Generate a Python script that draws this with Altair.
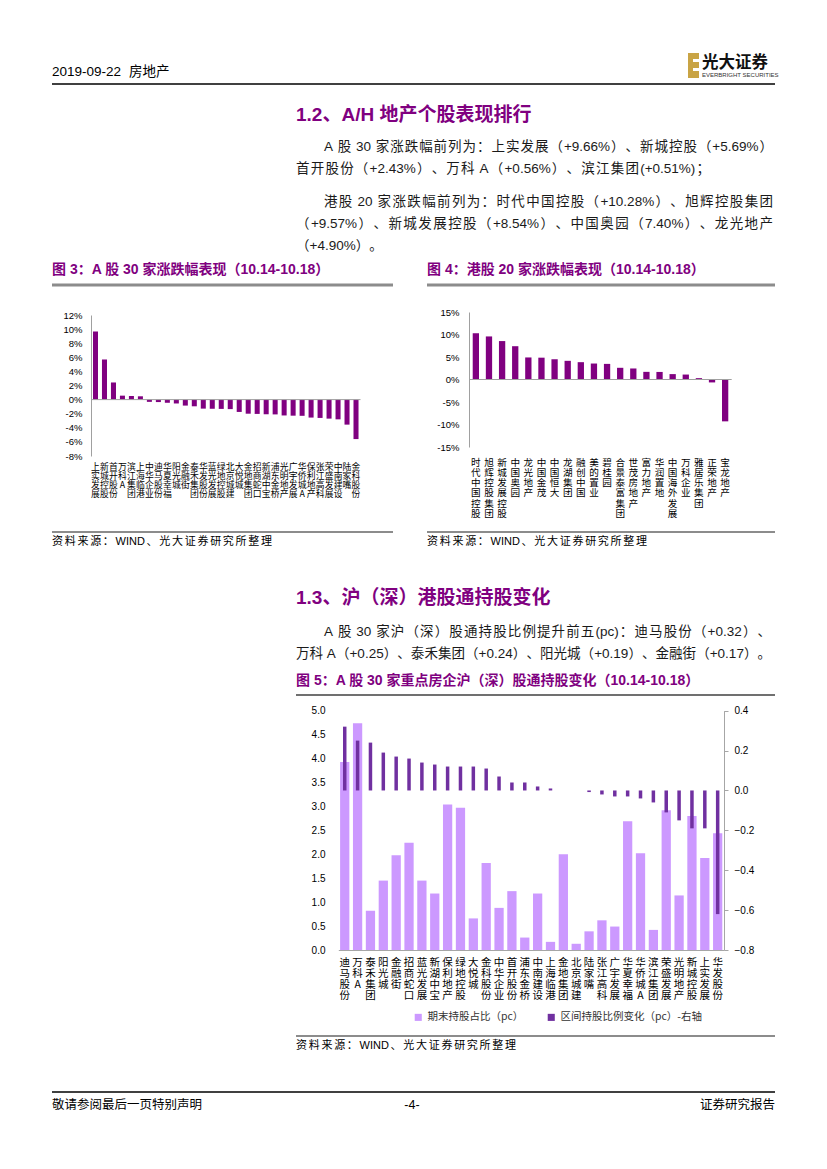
import altair as alt
import pandas as pd

FONT = "Noto Sans CJK SC"
LAT = "Liberation Sans, Noto Sans CJK SC"
PURPLE = "#800080"
BAR = "#800080"
TXT = "#1a1a1a"

# ---------------- data ----------------
a_names = ["上实发展", "新城控股", "首开股份", "万科A", "滨江集团", "上海临港", "中华企业", "迪马股份",
           "华夏幸福", "阳光城", "金融街", "泰禾集团", "华发股份", "蓝光发展", "绿地控股", "北京城建",
           "大悦城", "金地集团", "招商蛇口", "新湖中宝", "浦东金桥", "光明地产", "广宇发展", "华侨城A",
           "保利地产", "张江高科", "荣盛发展", "中南建设", "陆家嘴", "金科股份"]
a_chg = [9.66, 5.69, 2.43, 0.56, 0.51, 0.47, -0.32, -0.35, -0.45, -0.55, -0.85, -0.95, -1.28, -1.30,
         -1.32, -1.35, -1.75, -2.00, -2.03, -2.08, -2.10, -2.25, -2.28, -2.30, -2.55, -2.60, -2.70,
         -2.80, -3.55, -5.60]

h_names = ["时代中国控股", "旭辉控股集团", "新城发展控股", "中国奥园", "龙光地产", "中国金茂", "中国恒大",
           "龙湖集团", "融创中国", "美的置业", "碧桂园", "合景泰富集团", "世茂房地产", "富力地产",
           "华润置地", "中国海外发展", "万科企业", "雅居乐集团", "正荣地产", "宝龙地产"]
h_chg = [10.28, 9.57, 8.54, 7.40, 4.90, 4.85, 4.50, 4.15, 3.85, 3.55, 3.47, 2.60, 2.45, 1.70, 1.68,
         1.20, 1.10, 0.30, -0.65, -9.30]

c5_names = ["迪马股份", "万科A", "泰禾集团", "阳光城", "金融街", "招商蛇口", "蓝光发展", "新湖中宝",
            "保利地产", "绿地控股", "大悦城", "金科股份", "中华企业", "首开股份", "浦东金桥", "中南建设",
            "上海临港", "金地集团", "北京城建", "陆家嘴", "张江高科", "广宇发展", "华夏幸福", "华侨城A",
            "滨江集团", "荣盛发展", "光明地产", "新城控股", "上实发展", "华发股份"]
c5_hold = [3.93, 4.74, 0.82, 1.45, 1.98, 2.24, 1.45, 1.18, 3.04, 2.97, 0.66, 1.82, 0.88, 1.23, 0.26,
           1.18, 0.17, 2.00, 0.13, 0.39, 0.62, 0.49, 2.69, 2.02, 0.42, 2.92, 1.14, 2.80, 1.92, 2.44]
c5_delta = [0.32, 0.25, 0.24, 0.19, 0.17, 0.16, 0.14, 0.13, 0.12, 0.12, 0.12, 0.11, 0.07, 0.04, 0.04,
            0.02, 0.01, 0.0, 0.0, -0.008, -0.02, -0.03, -0.03, -0.04, -0.06, -0.11, -0.15, -0.19,
            -0.19, -0.62]
S1 = "期末持股占比（pc）"
S2 = "区间持股比例变化（pc）-右轴"

one = pd.DataFrame({"k": [0]})
W, H = 811, 1153  # page minus 8px margins; local = page - 8


# ---------------- helpers for page text ----------------
def T(x, y, s, size=13.5, color=TXT, weight="normal", align="left", font=FONT):
    return alt.Chart(one).mark_text(text=s, fontSize=size, color=color, fontWeight=weight,
                                    align=align, baseline="middle", font=font).encode(
        x=alt.value(x - 8), y=alt.value(y - 8))


def L(x1, x2, y, color="#000", w=1.5):
    return alt.Chart(one).mark_rule(color=color, strokeWidth=w).encode(
        x=alt.value(x1 - 8), x2=alt.value(x2 - 8), y=alt.value(y - 8))


def R(x1, x2, y1, y2, color):
    return alt.Chart(one).mark_rect(color=color).encode(
        x=alt.value(x1 - 8), x2=alt.value(x2 - 8), y=alt.value(y1 - 8), y2=alt.value(y2 - 8))


LATW = {".": .278, "%": .889, "+": .584, "-": .333, "A": .667, "W": .944, "I": .278, "N": .722,
        "D": .722, "(": .333, ")": .333, "p": .556, "c": .5}


def lw(s):
    return sum(LATW.get(c, .556) for c in s)


def toks(s):
    out, cur, cur_sp, sp = [], "", 0.0, 0.0
    for ch in s:
        if ch == " ":
            if cur:
                out.append((cur, lw(cur), cur_sp))
                cur = ""
            sp += 0.278
        elif ord(ch) > 0x2000:
            if cur:
                out.append((cur, lw(cur), cur_sp))
                cur = ""
            out.append((ch, 1.0, sp))
            sp = 0.0
        else:
            if not cur:
                cur_sp, sp = sp, 0.0
            cur += ch
    if cur:
        out.append((cur, lw(cur), cur_sp))
    return out


def justify(rows, x0, x1, y, s, size):
    t = toks(s)
    nat = sum(w for _, w, _ in t) * size + sum(sp for _, _, sp in t[1:]) * size
    extra = max(0.0, (x1 - x0 - nat) / (len(t) - 1)) if len(t) > 1 else 0.0
    x = x0
    for i, (txt, w, sp) in enumerate(t):
        if i > 0:
            x += sp * size + extra
        rows.append({"x": x - 8, "y": y - 8, "t": txt})
        x += w * size


body = []
justify(body, 324, 773, 147, "A 股 30 家涨跌幅前列为：上实发展（+9.66%）、新城控股（+5.69%）", 13.5)
justify(body, 296, 710, 169, "首开股份（+2.43%）、万科 A（+0.56%）、滨江集团(+0.51%)；", 13.5)
justify(body, 324, 773, 202, "港股 20 家涨跌幅前列为：时代中国控股（+10.28%）、旭辉控股集团", 13.5)
justify(body, 296, 773, 224, "（+9.57%）、新城发展控股（+8.54%）、中国奥园（7.40%）、龙光地产", 13.5)
justify(body, 296, 378, 246, "（+4.90%）。", 13.5)
justify(body, 324, 771, 632, "A 股 30 家沪（深）股通持股比例提升前五(pc)：迪马股份（+0.32）、", 13.5)
justify(body, 296, 771, 654, "万科 A（+0.25）、泰禾集团（+0.24）、阳光城（+0.19）、金融街（+0.17）。", 13.5)

src = []
SRC = "资料来源：WIND、光大证券研究所整理"
justify(src, 52, 272, 542, SRC, 11)
justify(src, 427, 647, 542, SRC, 11)
justify(src, 296, 516, 1046, SRC, 11)


def text_layer(rows, size, color):
    return alt.Chart(pd.DataFrame(rows)).mark_text(
        fontSize=size, color=color, align="left", baseline="middle", font=LAT).encode(
        x=alt.X("x:Q", scale=None), y=alt.Y("y:Q", scale=None), text="t:N")


page = [
    T(52, 72, "2019-09-22", size=13.5, color="#000", font="Liberation Sans"),
    T(129, 72, "房地产", size=13.5, color="#000"),
    L(52, 775, 84, "#000", 1.6),
    R(688, 699, 53, 78, "#C9A445"),
    R(693, 699, 59, 62, "#ffffff"),
    R(693, 699, 68, 71, "#ffffff"),
    T(702, 63, "光大证券", size=16.5, color="#111", weight="bold"),
    T(702, 75, "EVERBRIGHT SECURITIES", size=6, color="#333", font=LAT),
    T(296, 115, "1.2、A/H 地产个股表现排行", size=19, color=PURPLE, weight="bold", font=LAT),
    T(52, 270, "图 3：A 股 30 家涨跌幅表现（10.14-10.18）", size=14, color=PURPLE, weight="bold", font=LAT),
    T(427, 270, "图 4：港股 20 家涨跌幅表现（10.14-10.18）", size=14, color=PURPLE, weight="bold", font=LAT),
    L(52, 393, 285, "#8C8C8C", 3),
    L(427, 775, 285, "#8C8C8C", 3),
    L(52, 393, 532, "#8C8C8C", 2),
    L(427, 775, 532, "#8C8C8C", 2),
    T(296, 598, "1.3、沪（深）港股通持股变化", size=19, color=PURPLE, weight="bold", font=LAT),
    T(296, 681, "图 5：A 股 30 家重点房企沪（深）股通持股变化（10.14-10.18）", size=14, color=PURPLE,
      weight="bold", font=LAT),
    L(296, 775, 695, "#404040", 1.5),
    L(296, 775, 1036, "#8C8C8C", 2),
    L(52, 775, 1092, "#000", 1.5),
    T(52, 1105, "敬请参阅最后一页特别声明", size=12.5, color="#000"),
    T(412, 1105, "-4-", size=12.5, color="#000", align="center", font=LAT),
    T(775, 1105, "证券研究报告", size=12.5, color="#000", align="right"),
    text_layer(body, 13.5, TXT),
    text_layer(src, 11, "#000"),
]


# ---------------- charts (positioned through their scale ranges, local coords) ----------------
def xaxis(size, lh, pad, offset):
    return alt.Axis(title=None, orient="bottom", offset=offset, domain=False, ticks=False, labelAngle=0,
                    labelExpr="split(datum.label, '')", labelFontSize=size, labelLineHeight=lh,
                    labelBaseline="top", labelAlign="center", labelPadding=pad, labelFont=FONT,
                    labelColor="#000", labelOverlap=False)


# chart 3: plot x 83..352.5, y 307(12%)..448(-8%)
df3 = pd.DataFrame({"name": a_names, "chg": a_chg})
bars3 = alt.Chart(df3).mark_bar(color=BAR).encode(
    x=alt.X("name:N", sort=None, axis=xaxis(8.8, 9.3, 6, 448 - H),
            scale=alt.Scale(range=[83, 352.5], paddingInner=0.44, paddingOuter=0.22)),
    y=alt.Y("chg:Q", scale=alt.Scale(domain=[-8, 12], range=[448, 307], nice=False),
            axis=alt.Axis(orient="left", offset=-83, values=list(range(-8, 13, 2)),
                          labelExpr="datum.value + '%'", title=None, grid=False, ticks=False,
                          domainColor="#A0A0A0", labelFontSize=9.5, labelPadding=9, labelFont=LAT,
                          labelColor="#000")),
)
zero3 = alt.Chart(one).mark_rule(color="#A0A0A0").encode(
    y=alt.datum(0), x=alt.value(83), x2=alt.value(352.5))
chart3 = alt.layer(bars3, zero3)

# chart 4: plot x 461.3..723.7, y 304(15%)..439(-15%)
df4 = pd.DataFrame({"name": h_names, "chg": h_chg})
bars4 = alt.Chart(df4).mark_bar(color=BAR).encode(
    x=alt.X("name:N", sort=None, axis=xaxis(9.6, 10.3, 10, 439 - H),
            scale=alt.Scale(range=[461.3, 723.7], paddingInner=0.52, paddingOuter=0.26)),
    y=alt.Y("chg:Q", scale=alt.Scale(domain=[-15, 15], range=[439, 304], nice=False),
            axis=alt.Axis(orient="left", offset=-461, values=list(range(-15, 16, 5)),
                          labelExpr="datum.value + '%'", title=None, grid=False, ticks=False,
                          domainColor="#A0A0A0", labelFontSize=9.5, labelPadding=10, labelFont=LAT,
                          labelColor="#000")),
)
zero4 = alt.Chart(one).mark_rule(color="#A0A0A0").encode(
    y=alt.datum(0), x=alt.value(461.3), x2=alt.value(723.7))
chart4 = alt.layer(bars4, zero4)

# chart 5: plot x 330.3..716.1, y 702.7(top)..942(bottom)
df5 = pd.DataFrame({"name": c5_names, "hold": c5_hold, "delta": c5_delta})
x5 = alt.X("name:N", sort=None,
           axis=alt.Axis(title=None, orient="bottom", offset=942 - H, ticks=False, domainColor="#A6A6A6",
                         labelAngle=0, labelExpr="split(datum.label, '')", labelFontSize=10.5,
                         labelLineHeight=11, labelBaseline="top", labelAlign="center", labelPadding=7,
                         labelFont=FONT, labelColor="#000", labelOverlap=False),
           scale=alt.Scale(range=[330.3, 716.1], paddingInner=0.28, paddingOuter=0.14))
color5 = alt.Color("series:N", scale=alt.Scale(domain=[S1, S2], range=["#CC99FF", "#7030A0"]),
                   legend=alt.Legend(title=None, orient="none", legendX=405, legendY=1004,
                                     direction="horizontal", symbolType="square", symbolSize=50,
                                     symbolStrokeWidth=0, labelFontSize=10.5, labelFont=FONT,
                                     labelColor="#333", columnPadding=22))
l1 = alt.Chart(df5).transform_calculate(series="'" + S1 + "'").mark_bar().encode(
    x=x5,
    y=alt.Y("hold:Q", scale=alt.Scale(domain=[0, 5], range=[942, 702.7], nice=False),
            axis=alt.Axis(orient="left", offset=-330, values=[i * 0.5 for i in range(11)], format=".1f",
                          title=None, grid=False, ticks=False, domain=False, labelFontSize=10,
                          labelPadding=13, labelFont=LAT, labelColor="#000")),
    color=color5,
)
l2 = alt.Chart(df5).transform_calculate(series="'" + S2 + "'").mark_bar(size=3.5).encode(
    x=x5,
    y=alt.Y("delta:Q", scale=alt.Scale(domain=[-0.8, 0.4], range=[942, 702.7], nice=False),
            axis=alt.Axis(orient="right", offset=716 - W, values=[-0.8, -0.6, -0.4, -0.2, 0.0, 0.2, 0.4],
                          format=".1f", title=None, grid=False, tickSize=4, tickColor="#A6A6A6",
                          domainColor="#A6A6A6", labelFontSize=10, labelPadding=6, labelFont=LAT,
                          labelColor="#000")),
    color=color5,
)
chart5 = alt.layer(l1, l2).resolve_scale(y="independent")

chart = alt.layer(*page, chart3, chart4, chart5).resolve_scale(
    x="independent", y="independent").properties(
    width=W, height=H, padding=0, background="white").configure_view(strokeWidth=0)

chart.save("out.html", embed_options={"renderer": "svg", "actions": False})
